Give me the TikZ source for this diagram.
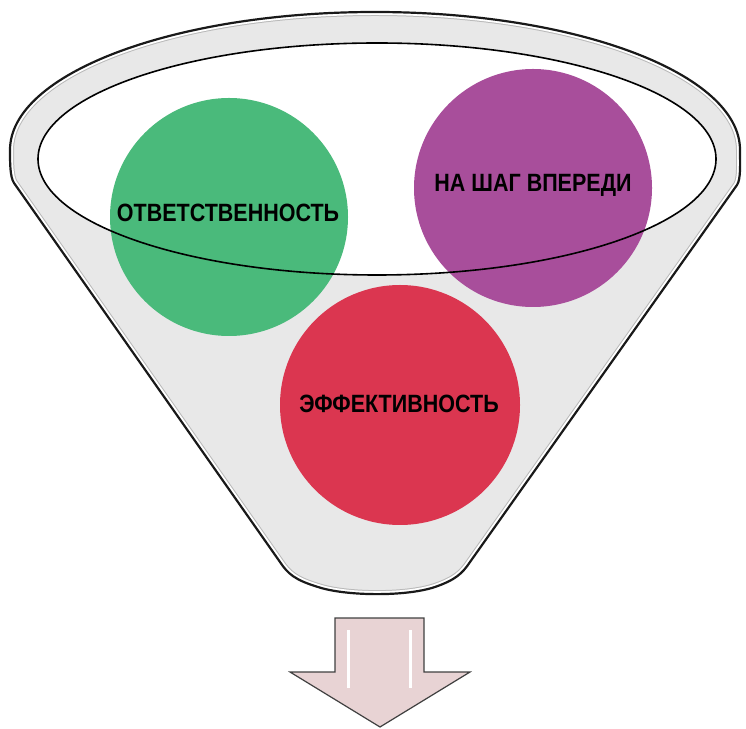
\documentclass[tikz,border=0pt]{standalone}
\usepackage{fontspec}
\newfontfamily\lblfont{Liberation Sans}[FakeStretch=0.86]
\definecolor{funnelgray}{HTML}{E8E8E8}
\definecolor{cgreen}{HTML}{4ABA7B}
\definecolor{cpurple}{HTML}{A84E9B}
\definecolor{cred}{HTML}{DB3650}
\definecolor{arrowpink}{HTML}{E8D3D4}
\tikzset{
  bubble/.style={circle, minimum size=238pt, inner sep=0pt, draw=none},
  bubbletext/.style={font=\lblfont\bfseries\fontsize{25}{27}\selectfont, text=black, inner sep=0pt},
}
\def\funnelpath{(10,578) arc[start angle=180, end angle=0, x radius=365, y radius=138]
  .. controls (740,565) and (741,549) .. (737,543) -- (470,166)
  .. controls (462,154) and (455,148) .. (435,141)
  .. controls (405,131) and (345,132) .. (318,141)
  .. controls (295,148) and (288,154) .. (280,166)
  -- (14,545) .. controls (10,551) and (10,565) .. (10,578) -- cycle}
\begin{document}
\begin{tikzpicture}[x=1pt,y=1pt]
\useasboundingbox (0,0) rectangle (746,728);
% funnel body
\fill[funnelgray] \funnelpath;
\begin{scope}
  \clip \funnelpath;
  \draw[gray!55, line width=8pt] \funnelpath;
  \draw[white, line width=6pt] \funnelpath;
\end{scope}
\draw[black!90, line width=2.2pt, line join=round] \funnelpath;
% inner opening
\fill[white] (377,569) ellipse [x radius=339, y radius=116];
% bubbles
\node[bubble, fill=cgreen] (green) at (229,511) {};
\node[bubble, fill=cpurple] (purple) at (533,540) {};
\node[bubble, fill=cred, minimum size=240pt] (red) at (400,323) {};
% rim line over bubbles
\draw[black, line width=1.6pt] (377,569) ellipse [x radius=339, y radius=116];
% labels
\node[bubbletext] (tgreen) at (228,515) {ОТВЕТСТВЕННОСТЬ};
\node[bubbletext] (tpurple) at (533,543) {НА ШАГ ВПЕРЕДИ};
\node[bubbletext] (tred) at (399,324) {ЭФФЕКТИВНОСТЬ};
% output arrow
\draw[fill=arrowpink, draw=black!75, line width=1.2pt, line join=miter]
  (335,110) -- (424,110) -- (424,56) -- (470,56) -- (380,1) -- (290,56) -- (335,56) -- cycle;
\draw[white, line width=3pt] (348,98) -- (348,40);
\draw[white, line width=3pt] (410,98) -- (410,40);
\end{tikzpicture}
\end{document}
